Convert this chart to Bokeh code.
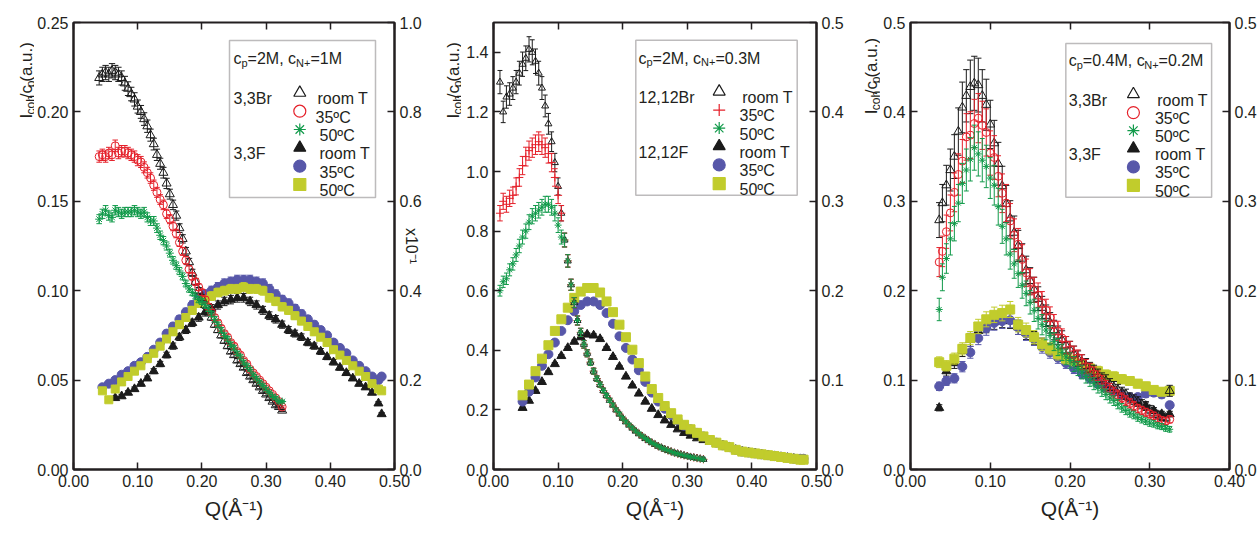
import math
from bokeh.plotting import figure
from bokeh.models import Range1d, LinearAxis, FixedTicker, NumeralTickFormatter, Label, BoxAnnotation
from bokeh.layouts import row
from bokeh.embed import file_html
from bokeh.resources import INLINE

# ---------------- data ----------------
# Panel 1 : cp=2M, cN+=1M  (3,3Br left axis ; 3,3F right axis, x10^-1)
P1_Q_BR = [0.040,0.045,0.050,0.055,0.060,0.065,0.070,0.075,0.080,0.085,
           0.090,0.095,0.100,0.105,0.110,0.115,0.120,0.125,0.130,0.135,
           0.140,0.145,0.150,0.155,0.160,0.165,0.170,0.175,0.180,0.185,
           0.190,0.195,0.200,0.205,0.210,0.215,0.220,0.225,0.230,0.235,
           0.240,0.245,0.250,0.255,0.260,0.265,0.270,0.275,0.280,0.285,
           0.290,0.295,0.300,0.305,0.310,0.315,0.320,0.325]
P1_BR_ROOM = [0.219,0.221,0.222,0.221,0.223,0.222,0.221,0.219,0.216,0.213,
              0.210,0.207,0.203,0.200,0.196,0.192,0.187,0.182,0.176,0.171,
              0.166,0.160,0.154,0.148,0.142,0.135,0.129,0.122,0.116,0.110,
              0.105,0.100,0.096,0.092,0.088,0.085,0.081,0.078,0.075,0.072,
              0.069,0.066,0.064,0.061,0.059,0.057,0.054,0.052,0.050,0.048,
              0.046,0.044,0.042,0.040,0.038,0.036,0.035,0.033]
P1_BR_35 = [0.175,0.176,0.175,0.177,0.176,0.181,0.177,0.178,0.178,0.177,
            0.176,0.175,0.173,0.172,0.169,0.166,0.163,0.159,0.155,0.151,
            0.148,0.143,0.140,0.136,0.132,0.127,0.122,0.117,0.112,0.108,
            0.105,0.102,0.099,0.095,0.091,0.088,0.085,0.082,0.079,0.076,
            0.074,0.071,0.069,0.066,0.064,0.061,0.059,0.056,0.054,0.052,
            0.050,0.048,0.046,0.044,0.042,0.040,0.038,0.035]
P1_BR_50 = [0.140,0.143,0.145,0.142,0.141,0.145,0.144,0.143,0.144,0.144,
            0.144,0.145,0.144,0.143,0.144,0.141,0.139,0.139,0.135,0.131,
            0.128,0.125,0.121,0.117,0.114,0.111,0.108,0.104,0.101,0.099,
            0.097,0.095,0.094,0.092,0.090,0.087,0.084,0.081,0.078,0.075,
            0.073,0.070,0.068,0.065,0.063,0.060,0.058,0.056,0.053,0.051,
            0.049,0.047,0.045,0.043,0.041,0.040,0.038,0.038]
P1_Q_F = [0.045,0.055,0.065,0.075,0.085,0.095,0.105,0.115,0.125,0.135,
          0.145,0.155,0.165,0.175,0.185,0.195,0.205,0.215,0.225,0.235,
          0.245,0.255,0.265,0.275,0.285,0.295,0.305,0.315,0.325,0.335,
          0.345,0.355,0.365,0.375,0.385,0.395,0.405,0.415,0.425,0.435,
          0.445,0.455,0.465,0.475,0.480]
P1_F_35 = [0.184,0.192,0.200,0.212,0.220,0.232,0.240,0.252,0.268,0.284,
           0.304,0.320,0.336,0.352,0.368,0.384,0.392,0.400,0.408,0.416,
           0.420,0.424,0.424,0.424,0.420,0.416,0.404,0.392,0.380,0.372,
           0.360,0.348,0.336,0.324,0.312,0.300,0.284,0.272,0.260,0.244,
           0.232,0.220,0.208,0.200,0.208]
P1_F_50 = [0.176,0.156,0.180,0.196,0.208,0.220,0.232,0.248,0.260,0.276,
           0.292,0.308,0.324,0.340,0.356,0.372,0.380,0.388,0.396,0.400,
           0.404,0.404,0.408,0.404,0.404,0.400,0.384,0.376,0.364,0.356,
           0.344,0.332,0.320,0.308,0.296,0.284,0.268,0.256,0.244,0.232,
           0.220,0.208,0.192,0.180,0.176]
P1_Q_FR = [0.065,0.075,0.085,0.095,0.105,0.115,0.125,0.135,0.145,0.155,
           0.165,0.175,0.185,0.195,0.205,0.215,0.225,0.235,0.245,0.255,
           0.265,0.275,0.285,0.295,0.305,0.315,0.325,0.335,0.345,0.355,
           0.365,0.375,0.385,0.395,0.405,0.415,0.425,0.435,0.445,0.455,
           0.465,0.475,0.480]
P1_F_ROOM = [0.160,0.164,0.172,0.180,0.192,0.204,0.220,0.236,0.256,0.276,
             0.296,0.312,0.328,0.340,0.352,0.360,0.368,0.376,0.380,0.384,
             0.384,0.376,0.368,0.356,0.344,0.336,0.324,0.312,0.304,0.296,
             0.284,0.276,0.264,0.252,0.240,0.228,0.216,0.204,0.192,0.184,
             0.172,0.148,0.124]

# Panel 2 : cp=2M, cN+=0.3M (12,12Br left axis ; 12,12F right axis)
P2_Q_BR = [0.010,0.015,0.020,0.025,0.030,0.035,0.040,0.045,0.050,0.055,
           0.060,0.065,0.070,0.075,0.080,0.085,0.090,0.095,0.100,0.105,
           0.110,0.115,0.120,0.125,0.130,0.135,0.140,0.145,0.150,0.155,
           0.160,0.165,0.170,0.175,0.180,0.185,0.190,0.195,0.200,0.205,
           0.210,0.215,0.220,0.225,0.230,0.235,0.240,0.245,0.250,0.255,
           0.260,0.265,0.270,0.275,0.280,0.285,0.290,0.295,0.300,0.305,
           0.310,0.315,0.320,0.325]
P2_BR_TAIL = [0.77,0.70,0.62,0.56,0.50,0.46,0.42,0.39,0.36,0.33,
              0.305,0.285,0.265,0.248,0.232,0.216,0.200,0.186,0.172,0.160,
              0.149,0.139,0.129,0.120,0.112,0.104,0.097,0.090,0.084,0.078,
              0.073,0.068,0.064,0.060,0.056,0.053,0.050,0.047,0.045,0.042,
              0.040,0.038,0.036,0.034]
P2_BR_ROOM = [1.30,1.20,1.25,1.26,1.28,1.30,1.33,1.36,1.38,1.41,
              1.40,1.37,1.33,1.28,1.22,1.16,1.10,1.03,0.95,0.86] + P2_BR_TAIL
P2_BR_35 = [0.86,0.90,0.89,0.91,0.92,0.95,0.98,1.02,1.05,1.07,
            1.08,1.09,1.10,1.09,1.08,1.06,1.03,0.98,0.92,0.86] + P2_BR_TAIL
P2_BR_50 = [0.60,0.63,0.64,0.67,0.69,0.72,0.75,0.78,0.80,0.83,
            0.85,0.86,0.87,0.88,0.89,0.89,0.88,0.86,0.82,0.78] + P2_BR_TAIL
P2_Q_F = P1_Q_F
P2_F_50 = [0.083,0.095,0.110,0.124,0.139,0.155,0.168,0.181,0.192,0.199,
           0.203,0.203,0.198,0.188,0.176,0.162,0.148,0.134,0.119,0.104,
           0.090,0.080,0.071,0.063,0.056,0.050,0.045,0.041,0.037,0.033,
           0.030,0.027,0.025,0.022,0.020,0.019,0.018,0.017,0.016,0.015,
           0.014,0.013,0.012,0.011,0.011]
P2_F_35 = [0.076,0.087,0.103,0.116,0.129,0.142,0.155,0.167,0.177,0.184,
           0.188,0.188,0.184,0.175,0.163,0.149,0.136,0.123,0.111,0.098,
           0.086,0.076,0.068,0.061,0.055,0.049,0.045,0.041,0.037,0.033,
           0.030,0.027,0.025,0.022,0.020,0.019,0.018,0.017,0.016,0.015,
           0.014,0.013,0.012,0.012,0.012]
P2_F_ROOM = [0.069,0.077,0.088,0.098,0.109,0.118,0.127,0.136,0.143,0.148,
             0.151,0.150,0.146,0.136,0.126,0.115,0.104,0.094,0.085,0.076,
             0.068,0.061,0.055,0.050,0.045,0.041,0.038,0.035,0.033,0.031,
             0.029,0.027,0.025,0.022,0.020,0.019,0.018,0.017,0.016,0.015,
             0.014,0.013,0.012,0.011,0.011]

# Panel 3 : cp=0.4M, cN+=0.2M (3,3Br and 3,3F, same scale)
P3_Q_BR = [0.036,0.040,0.045,0.050,0.055,0.060,0.065,0.070,0.075,0.080,
           0.085,0.090,0.095,0.100,0.105,0.110,0.115,0.120,0.125,0.130,
           0.135,0.140,0.145,0.150,0.155,0.160,0.165,0.170,0.175,0.180,
           0.185,0.190,0.195,0.200,0.205,0.210,0.215,0.220,0.225,0.230,
           0.235,0.240,0.245,0.250,0.255,0.260,0.265,0.270,0.275,0.280,
           0.285,0.290,0.295,0.300,0.305,0.310,0.315,0.320,0.325]
P3_BR_ROOM = [0.279,0.298,0.318,0.335,0.350,0.378,0.405,0.418,0.428,0.432,
              0.430,0.418,0.408,0.386,0.365,0.342,0.317,0.297,0.281,0.265,
              0.250,0.236,0.223,0.211,0.201,0.191,0.181,0.172,0.164,0.156,
              0.150,0.145,0.139,0.134,0.129,0.124,0.120,0.116,0.112,0.109,
              0.105,0.101,0.099,0.095,0.092,0.089,0.086,0.084,0.080,0.078,
              0.076,0.073,0.071,0.067,0.063,0.061,0.059,0.058,0.088]
P3_BR_35 = [0.232,0.244,0.266,0.287,0.310,0.330,0.345,0.372,0.374,0.387,
            0.393,0.385,0.377,0.354,0.349,0.328,0.309,0.298,0.278,0.262,
            0.252,0.235,0.220,0.210,0.201,0.195,0.186,0.178,0.170,0.162,
            0.155,0.147,0.139,0.134,0.129,0.125,0.120,0.115,0.111,0.107,
            0.103,0.098,0.093,0.090,0.086,0.083,0.080,0.077,0.074,0.071,
            0.068,0.066,0.064,0.062,0.060,0.057,0.055,0.054,0.056]
P3_BR_50 = [0.179,0.215,0.236,0.258,0.275,0.298,0.320,0.335,0.347,0.360,
            0.353,0.346,0.339,0.326,0.318,0.294,0.272,0.258,0.241,0.230,
            0.219,0.206,0.197,0.187,0.178,0.169,0.162,0.156,0.150,0.143,
            0.137,0.131,0.126,0.122,0.118,0.113,0.109,0.104,0.100,0.096,
            0.092,0.088,0.084,0.080,0.077,0.073,0.069,0.066,0.063,0.061,
            0.058,0.056,0.054,0.052,0.051,0.049,0.048,0.046,0.045]
P3_Q_F = [0.036,0.045,0.055,0.065,0.075,0.085,0.095,0.105,0.115,0.125,
          0.135,0.145,0.155,0.165,0.175,0.185,0.195,0.205,0.215,0.225,
          0.235,0.245,0.255,0.265,0.275,0.285,0.295,0.305,0.315,0.325]
P3_F_50 = [0.120,0.116,0.124,0.135,0.147,0.160,0.168,0.173,0.175,0.179,
           0.162,0.156,0.148,0.140,0.135,0.129,0.124,0.122,0.117,0.113,
           0.110,0.106,0.104,0.101,0.099,0.096,0.093,0.089,0.087,0.088]
P3_F_35 = [0.093,0.099,0.102,0.115,0.131,0.147,0.158,0.164,0.166,0.167,
           0.159,0.152,0.146,0.137,0.131,0.125,0.119,0.113,0.107,0.102,
           0.096,0.092,0.087,0.083,0.081,0.081,0.085,0.086,0.084,0.072]
P3_F_ROOM = [0.069,0.110,0.119,0.133,0.145,0.155,0.161,0.165,0.167,0.166,
             0.159,0.153,0.147,0.140,0.134,0.129,0.124,0.118,0.111,0.105,
             0.099,0.093,0.088,0.084,0.080,0.075,0.071,0.066,0.062,0.062]

# relative error-bar sizes per panel (Br, F)
ERR = {1: (0.018, 0.025), 2: (0.03, 0.012), 3: (0.07, 0.05)}

# axis ticks / labels
P1_X = [0.0, 0.1, 0.2, 0.3, 0.4, 0.5]
P1_YL = [0.0, 0.05, 0.10, 0.15, 0.20, 0.25]
P1_YR = [0.0, 0.2, 0.4, 0.6, 0.8, 1.0]
P2_X = [0.0, 0.1, 0.2, 0.3, 0.4, 0.5]
P2_YL = [0.0, 0.2, 0.4, 0.6, 0.8, 1.0, 1.2, 1.4]
P2_YR = [0.0, 0.1, 0.2, 0.3, 0.4, 0.5]
P3_X = [0.0, 0.1, 0.2, 0.3, 0.4]
P3_YL = [0.0, 0.1, 0.2, 0.3, 0.4, 0.5]
P3_YR = [0.0, 0.1, 0.2, 0.3, 0.4, 0.5]

XLABEL = "Q(Å⁻¹)"
RSCALE = "x10⁻¹"
TITLES = [("2M", "1M"), ("2M", "0.3M"), ("0.4M", "0.2M")]
GROUPS = [("3,3Br", "3,3F"), ("12,12Br", "12,12F"), ("3,3Br", "3,3F")]
ROWS = ["room T", "35ºC", "50ºC", "room T", "35ºC", "50ºC"]

# ---------------- style / layout ----------------
FONT = "Liberation Sans"
INK = "#231f20"
BLACK = "#1b1b1b"
RED = "#e5202a"
GREEN = "#119a4a"
BLUE = "#5757a9"
YELLOW = "#c1cc2c"
H = 536
FIGS = [
    dict(x0=34, w=402, L=73, T=22, R=394, B=469),
    dict(x0=461, w=387, L=493, T=18, R=816, B=471),
    dict(x0=880, w=379, L=909, T=16, R=1230, B=471),
]
LABS = [(0, 34), (436, 25), (848, 32)]

CW = {' ': 278, '(': 333, ')': 333, '+': 584, ',': 278, '-': 333, '.': 278, '/': 278,
      '=': 584, 'A': 667, 'B': 667, 'C': 722, 'F': 611, 'M': 833, 'N': 722, 'Q': 778,
      'T': 611, 'I': 278, 'a': 556, 'c': 500, 'h': 556, 'm': 833, 'o': 556, 'p': 556,
      'r': 333, 'u': 556, 'x': 500, 'º': 365, 'Å': 667}


def tw(s, size):
    return sum(CW.get(c, 556) for c in s) / 1000.0 * size


def fit(q, y):
    n = min(len(q), len(y))
    return list(q[:n]), list(y[:n])


def put_text(fig, X, Y, pieces, px, py, direction="h"):
    ang = {"h": 0.0, "up": math.pi / 2, "down": -math.pi / 2}[direction]
    for s, size, shift in pieces:
        if direction == "h":
            x, y = px, py + shift
        elif direction == "up":
            x, y = px + shift, py
        else:
            x, y = px - shift, py
        fig.add_layout(Label(x=X(x), y=Y(y), text=s, angle=ang,
                             text_font=FONT, text_font_size=f"{size}px",
                             text_color=INK, text_align="left",
                             text_baseline="alphabetic"))
        w = tw(s, size)
        if direction == "h":
            px += w
        elif direction == "up":
            py -= w
        else:
            py += w


class Panel:
    def __init__(self, k, xr, yl, yr):
        f = FIGS[k]
        self.f, self.xr, self.yl = f, xr, yl
        p = figure(width=f["w"], height=H, x_range=Range1d(*xr), y_range=Range1d(*yl),
                   min_border_left=f["L"] - f["x0"], min_border_right=f["x0"] + f["w"] - f["R"],
                   min_border_top=f["T"], min_border_bottom=H - f["B"],
                   output_backend="svg", toolbar_location=None,
                   background_fill_color="white", border_fill_color="white")
        p.xgrid.visible = False
        p.ygrid.visible = False
        p.outline_line_color = INK
        p.outline_line_width = 2
        p.extra_y_ranges = {"r": Range1d(*yr)}
        self.p = p

    def X(self, px):
        f = self.f
        return self.xr[0] + (px - f["L"]) / (f["R"] - f["L"]) * (self.xr[1] - self.xr[0])

    def Y(self, py):
        f = self.f
        return self.yl[0] + (f["B"] - py) / (f["B"] - f["T"]) * (self.yl[1] - self.yl[0])

    def text(self, pieces, px, py, direction="h"):
        put_text(self.p, self.X, self.Y, pieces, px, py, direction)


def label_fig(k):
    x0, w = LABS[k]
    f = figure(width=w, height=H, x_range=Range1d(x0, x0 + w), y_range=Range1d(H, 0),
               x_axis_location=None, y_axis_location=None,
               min_border=0, min_border_left=0, min_border_right=0, min_border_top=0,
               min_border_bottom=0, output_backend="svg", toolbar_location=None,
               background_fill_color="white", border_fill_color="white")
    f.grid.visible = False
    f.outline_line_color = None
    return f


def style_axis(ax, ticks, fmt, labels=True, line=True):
    ax.ticker = FixedTicker(ticks=ticks)
    ax.formatter = NumeralTickFormatter(format=fmt)
    ax.axis_line_color = INK if line else None
    ax.axis_line_width = 2
    ax.major_tick_line_color = INK
    ax.major_tick_line_width = 1.5
    ax.major_tick_in = 7
    ax.major_tick_out = 0
    ax.minor_tick_line_color = None
    ax.major_label_text_font = FONT
    if labels:
        ax.major_label_text_color = INK
        ax.major_label_text_font_size = "16px"
        ax.major_label_standoff = 5
    else:
        ax.major_label_text_color = None
        ax.major_label_text_font_size = "1px"
        ax.major_label_standoff = 0


def axis_title(ax, text, size, standoff):
    ax.axis_label = text
    ax.axis_label_text_font = FONT
    ax.axis_label_text_font_size = f"{size}px"
    ax.axis_label_text_font_style = "normal"
    ax.axis_label_text_color = INK
    ax.axis_label_standoff = standoff


def series(P, q, y, marker, color, size, filled, err, rng=None, lw=1.0):
    q, y = fit(q, y)
    kw = {} if rng is None else {"y_range_name": rng}
    lo = [v * (1 - err) for v in y]
    hi = [v * (1 + err) for v in y]
    P.p.segment(x0=q, y0=lo, x1=q, y1=hi, line_color=color, line_width=1, **kw)
    P.p.scatter(q + q, lo + hi, marker="dash", size=size * 0.7, line_color=color, line_width=1, **kw)
    P.p.scatter(q, y, marker=marker, size=size, line_color=color, line_width=lw,
                fill_color=color if filled else None, **kw)


def legend(P, k, box, title_xy, rows_y, group_x, mark_x, text_x, markers):
    L, T, R, B = box
    P.p.add_layout(BoxAnnotation(left=P.X(L), right=P.X(R), top=P.Y(T), bottom=P.Y(B),
                                 fill_color=None, fill_alpha=0, line_color=INK, line_width=1.5))
    cp, cn = TITLES[k]
    P.text([("c", 16, 0), ("p", 11, 4), ("=" + cp + ", c", 16, 0), ("N+", 11, 4), ("=" + cn, 16, 0)],
           *title_xy)
    P.text([(GROUPS[k][0], 16, 0)], group_x, rows_y[0])
    P.text([(GROUPS[k][1], 16, 0)], group_x, rows_y[3])
    for i, (mk, col, filled) in enumerate(markers):
        P.p.scatter([P.X(mark_x)], [P.Y(rows_y[i] - 6)], marker=mk, size=12, line_color=col,
                    fill_color=col if filled else None, line_width=1.2)
        P.text([(ROWS[i], 16, 0)], text_x[i], rows_y[i])


def ylabel(fig, px, py):
    put_text(fig, lambda v: v, lambda v: v,
             [("I", 17, 0), ("coh", 12, 4), ("/c", 17, 0), ("p", 12, 4), (" (a.u.)", 17, 0)],
             px, py, "up")


def make_axes(P, xt, ylt, yrt, yfmt, rfmt):
    p = P.p
    style_axis(p.xaxis[0], xt, "0.00")
    axis_title(p.xaxis[0], XLABEL, 21, 7)
    style_axis(p.yaxis[0], ylt, yfmt)
    ar = LinearAxis(y_range_name="r")
    style_axis(ar, yrt, rfmt)
    p.add_layout(ar, "right")
    at = LinearAxis()
    style_axis(at, xt, "0.00", labels=False, line=False)
    p.add_layout(at, "above")
    return ar


MK1 = [("triangle", BLACK, False), ("circle", RED, False), ("asterisk", GREEN, False),
       ("triangle", BLACK, True), ("circle", BLUE, True), ("square", YELLOW, True)]
MK2 = [("triangle", BLACK, False), ("cross", RED, False), ("asterisk", GREEN, False),
       ("triangle", BLACK, True), ("circle", BLUE, True), ("square", YELLOW, True)]

# ---------------- panel 1 ----------------
A = Panel(0, (0, 0.5), (0, 0.25), (0, 1.0))
ar = make_axes(A, P1_X, P1_YL, P1_YR, "0.00", "0.0")
axis_title(ar, RSCALE, 16, -22)
eb, ef = ERR[1]
series(A, P1_Q_FR, P1_F_ROOM, "triangle", BLACK, 9, True, ef, "r")
series(A, P1_Q_F, P1_F_35, "circle", BLUE, 9, True, ef, "r")
series(A, P1_Q_F, P1_F_50, "square", YELLOW, 8, True, ef, "r")
series(A, P1_Q_BR, P1_BR_ROOM, "triangle", BLACK, 9, False, eb)
series(A, P1_Q_BR, P1_BR_35, "circle", RED, 8, False, eb)
series(A, P1_Q_BR, P1_BR_50, "asterisk", GREEN, 8, False, eb)
legend(A, 0, (229, 40, 375, 197), (233, 58.3), [98.3, 116.7, 135, 153.3, 171.7, 190],
       233, 299.3, [317, 315, 319, 319, 319, 319], MK1)
L1 = label_fig(0)
ylabel(L1, 26, 115)

# ---------------- panel 2 ----------------
Bp = Panel(1, (0, 0.5), (0, 1.5), (0, 0.5))
make_axes(Bp, P2_X, P2_YL, P2_YR, "0.0", "0.0")
eb, ef = ERR[2]
series(Bp, P2_Q_F, P2_F_ROOM, "triangle", BLACK, 9, True, ef, "r")
series(Bp, P2_Q_F, P2_F_35, "circle", BLUE, 9, True, ef, "r")
series(Bp, P2_Q_F, P2_F_50, "square", YELLOW, 9, True, ef, "r")
series(Bp, P2_Q_BR, P2_BR_ROOM, "triangle", BLACK, 7, False, eb)
series(Bp, P2_Q_BR, P2_BR_35, "cross", RED, 8, False, eb)
series(Bp, P2_Q_BR, P2_BR_50, "asterisk", GREEN, 7, False, eb)
legend(Bp, 1, (635.3, 36, 796.7, 193), (638, 54), [94, 112.7, 131, 149.3, 168.3, 187.3],
       638, 718.7, [741.7, 739, 739, 739, 739, 739], MK2)
L2 = label_fig(1)
ylabel(L2, 453, 115)

# ---------------- panel 3 ----------------
Cp = Panel(2, (0, 0.4), (0, 0.5), (0, 0.5))
make_axes(Cp, P3_X, P3_YL, P3_YR, "0.0", "0.0")
eb, ef = ERR[3]
series(Cp, P3_Q_F, P3_F_ROOM, "triangle", BLACK, 9, True, ef)
series(Cp, P3_Q_F, P3_F_35, "circle", BLUE, 9, True, ef)
series(Cp, P3_Q_F, P3_F_50, "square", YELLOW, 9, True, ef)
series(Cp, P3_Q_BR, P3_BR_ROOM, "triangle", BLACK, 9, False, eb)
series(Cp, P3_Q_BR, P3_BR_35, "circle", RED, 8, False, eb)
series(Cp, P3_Q_BR, P3_BR_50, "asterisk", GREEN, 7, False, eb)
legend(Cp, 2, (1065.3, 37.3, 1212, 194), (1068.3, 55), [95, 113.7, 132, 150.3, 169, 187.7],
       1068.3, 1133.3, [1157.3, 1155, 1155, 1155, 1155, 1155], MK1)
L3 = label_fig(2)
ylabel(L3, 871, 110)

layout = row(L1, A.p, L2, Bp.p, L3, Cp.p)
open("out.html", "w").write(file_html(layout, INLINE))
